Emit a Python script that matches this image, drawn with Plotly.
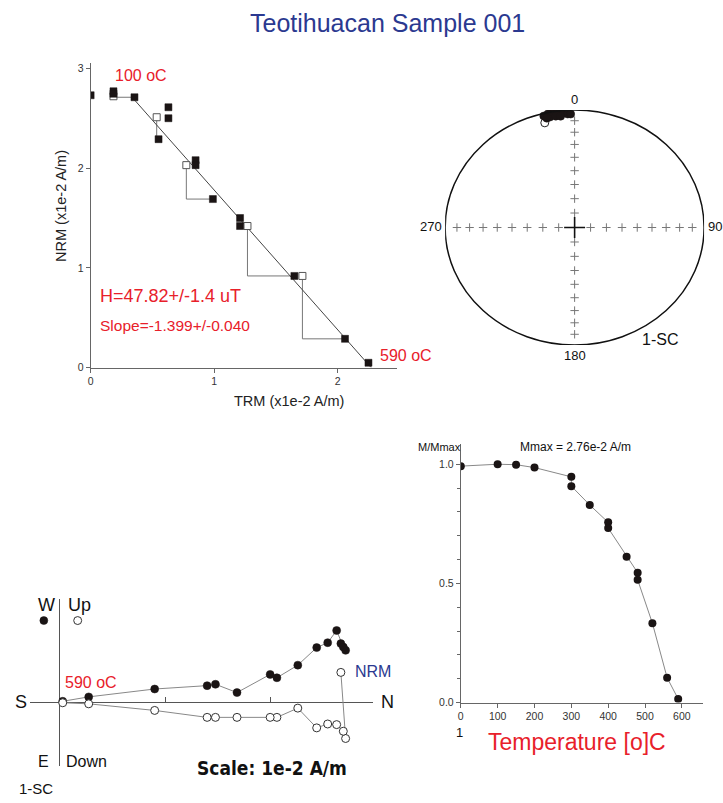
import numpy as np
import plotly.graph_objects as go

W, H = 723, 803
FONT = "Arial, Liberation Sans, Helvetica, sans-serif"

# ---------------- Arai plot data (x1e-2 A/m) ----------------
arai_trm = [0.0, 0.185, 0.185, 0.355, 0.63, 0.63, 0.55, 0.85, 0.85, 0.99, 1.21, 1.21, 1.65, 2.06, 2.25]
arai_nrm = [2.73, 2.77, 2.745, 2.71, 2.61, 2.50, 2.29, 2.08, 2.03, 1.69, 1.50, 1.42, 0.92, 0.29, 0.05]
check_trm = [0.185, 0.535, 0.775, 1.27, 1.715]
check_nrm = [2.72, 2.51, 2.03, 1.42, 0.92]
check_target = [3, 6, 9, 12, 13]          # index of the step each check links to
fit_slope = -1.399
fit_intercept = 3.18
fit_trm_range = [0.33, 2.27]

# ---------------- Equal-area (stereonet) data ----------------
stereo_dec = [345.9, 347.9, 349.7, 351.1, 352.5, 353.7, 355.0, 356.8, 358.2, 348.5, 351.3, 353.5, 347.0]
stereo_inc = [2.4, 1.4, 1.0, 0.5, 0.0, 1.3, 2.4, 3.7, 3.8, 4.6, 4.6, 5.2, 5.0]
stereo_open_dec = [345.5]
stereo_open_inc = [-8.8]
grid_incs = [80, 70, 60, 50, 40, 30, 20, 10]

# ---------------- Zijderveld data (x1e-2 A/m) ----------------
zij_north = [2.663, 2.708, 2.686, 2.623, 2.538, 2.434, 2.255, 2.057, 1.993, 1.679, 1.475, 1.396, 0.899, 0.274, 0.028]
zij_east = [-0.557, -0.493, -0.525, -0.682, -0.566, -0.519, -0.352, -0.232, -0.264, -0.091, -0.170, -0.157, -0.125, -0.050, -0.008]
zij_down = [-0.283, 0.346, 0.277, 0.214, 0.208, 0.245, 0.057, 0.145, 0.145, 0.145, 0.145, 0.145, 0.079, 0.016, 0.006]

# ---------------- Demagnetisation curve ----------------
demag_temp = [0, 100, 150, 200, 300, 300, 350, 400, 400, 450, 480, 480, 520, 560, 590]
demag_mmax = [0.992, 1.0, 0.998, 0.986, 0.947, 0.908, 0.829, 0.756, 0.732, 0.612, 0.545, 0.515, 0.333, 0.104, 0.015]


def px(x):
    return x / W


def py(y):
    return 1 - y / H


fig = go.Figure()

# ---- Arai ----
for ct, cn, ti in zip(check_trm, check_nrm, check_target):
    fig.add_trace(go.Scatter(x=[ct, ct, arai_trm[ti]], y=[cn, arai_nrm[ti], arai_nrm[ti]],
                             mode="lines", line=dict(color="#777", width=1),
                             xaxis="x", yaxis="y", showlegend=False, hoverinfo="skip"))
fx = np.array(fit_trm_range)
fig.add_trace(go.Scatter(x=fx, y=fit_intercept + fit_slope * fx, mode="lines",
                         line=dict(color="#444", width=1), xaxis="x", yaxis="y", showlegend=False))
fig.add_trace(go.Scatter(x=check_trm, y=check_nrm, mode="markers",
                         marker=dict(symbol="square", size=7, color="white", line=dict(color="#555", width=1)),
                         xaxis="x", yaxis="y", showlegend=False))
fig.add_trace(go.Scatter(x=arai_trm, y=arai_nrm, mode="markers",
                         marker=dict(symbol="square", size=7, color="#1a1414", line=dict(color="#1a1414", width=0.5)),
                         xaxis="x", yaxis="y", showlegend=False))

# ---- Stereonet ----
def eqarea(dec, inc):
    dec = np.radians(np.array(dec, dtype=float))
    inc = np.abs(np.array(inc, dtype=float))
    r = np.sqrt(2) * np.sin(np.radians(90 - inc) / 2)
    return r * np.sin(dec), r * np.cos(dec)

gr = eqarea([0] * len(grid_incs), grid_incs)[1]
gx = list(gr) + list(-gr) + [0] * (2 * len(gr))
gy = [0] * (2 * len(gr)) + list(gr) + list(-gr)
fig.add_trace(go.Scatter(x=gx, y=gy, mode="markers",
                         marker=dict(symbol="cross-thin", size=6, line=dict(color="#777", width=1)),
                         xaxis="x2", yaxis="y2", showlegend=False, hoverinfo="skip"))
fig.add_trace(go.Scatter(x=[0], y=[0], mode="markers",
                         marker=dict(symbol="cross-thin", size=15, line=dict(color="#111", width=1.6)),
                         xaxis="x2", yaxis="y2", showlegend=False, hoverinfo="skip"))
sx, sy = eqarea(stereo_dec, stereo_inc)
ox, oy = eqarea(stereo_open_dec, stereo_open_inc)
fig.add_trace(go.Scatter(x=ox, y=oy, mode="markers",
                         marker=dict(symbol="circle", size=8, color="white", line=dict(color="#222", width=1)),
                         xaxis="x2", yaxis="y2", showlegend=False))
fig.add_trace(go.Scatter(x=sx, y=sy, mode="markers",
                         marker=dict(symbol="circle", size=8, color="#1a1414", line=dict(color="#1a1414", width=0.5)),
                         xaxis="x2", yaxis="y2", showlegend=False))

# ---- Zijderveld ----
zn = np.array(zij_north)
zw = -np.array(zij_east)
zu = -np.array(zij_down)
fig.add_trace(go.Scatter(x=zn, y=zw, mode="lines", line=dict(color="#888", width=1),
                         xaxis="x3", yaxis="y3", showlegend=False, hoverinfo="skip"))
fig.add_trace(go.Scatter(x=zn, y=zu, mode="lines", line=dict(color="#888", width=1),
                         xaxis="x3", yaxis="y3", showlegend=False, hoverinfo="skip"))
fig.add_trace(go.Scatter(x=zn, y=zw, mode="markers",
                         marker=dict(symbol="circle", size=8, color="#1a1414", line=dict(color="#1a1414", width=0.5)),
                         xaxis="x3", yaxis="y3", showlegend=False))
fig.add_trace(go.Scatter(x=zn, y=zu, mode="markers",
                         marker=dict(symbol="circle", size=8, color="white", line=dict(color="#333", width=1)),
                         xaxis="x3", yaxis="y3", showlegend=False))

# ---- Demag ----
fig.add_trace(go.Scatter(x=demag_temp, y=demag_mmax, mode="lines+markers",
                         line=dict(color="#888", width=1),
                         marker=dict(symbol="circle", size=8, color="#1a1414"),
                         xaxis="x4", yaxis="y4", showlegend=False))

axis_common = dict(showgrid=False, zeroline=False, showline=True, linecolor="#666", linewidth=1,
                   ticks="outside", ticklen=4, tickcolor="#666",
                   tickfont=dict(family=FONT, size=10.5, color="#333"), fixedrange=True)

ORX, ORY, SC = 57, 707.3, 106.0   # zijderveld origin px and px per unit

fig.update_layout(
    width=W, height=H, margin=dict(l=0, r=0, t=0, b=0),
    paper_bgcolor="white", plot_bgcolor="rgba(0,0,0,0)", showlegend=False,
    xaxis=dict(domain=[px(88), px(396)], range=[0, (396 - 88) / 124.0], tickvals=[0, 1, 2],
               anchor="y", **axis_common),
    yaxis=dict(domain=[py(370), py(63)], range=[0, (370 - 63) / 100.7], tickvals=[0, 1, 2, 3],
               anchor="x", **axis_common),
    xaxis2=dict(domain=[px(444), px(704)], range=[-1, 1], visible=False, anchor="y2", fixedrange=True),
    yaxis2=dict(domain=[py(347), py(110)], range=[-1, 1], visible=False, anchor="x2", fixedrange=True),
    xaxis3=dict(domain=[px(27), px(372)], range=[(27 - ORX) / SC, (372 - ORX) / SC],
                showgrid=False, zeroline=True, zerolinecolor="#555", zerolinewidth=1,
                showline=False, showticklabels=False, ticks="inside", ticklen=5, tickcolor="#555",
                tickvals=[1, 2], anchor="free", position=py(ORY), fixedrange=True),
    yaxis3=dict(domain=[py(772), py(603)], range=[-(772 - ORY) / SC, (ORY - 603) / SC],
                showgrid=False, zeroline=True, zerolinecolor="#555", zerolinewidth=1,
                showline=False, showticklabels=False, ticks="", anchor="x3", fixedrange=True),
    xaxis4=dict(domain=[px(459.7), px(703)], range=[0, (703 - 459.7) / 0.37],
                tickvals=[0, 100, 200, 300, 400, 500, 600], anchor="y4", **axis_common),
    yaxis4=dict(domain=[py(707.7), py(447)], range=[0, (707.7 - 447) / 240.4],
                tickvals=[0, 0.5, 1.0], ticktext=["0.0", "0.5", "1.0"], anchor="x4",
                minor=dict(tick0=0, dtick=0.1, ticks="outside", ticklen=3, tickcolor="#666"),
                **axis_common),
)

fig.add_shape(type="circle", xref="x2", yref="y2", x0=-1, x1=1, y0=-1, y1=1,
              line=dict(color="#111", width=1.5))

# legend symbols of the Zijderveld plot
fig.add_shape(type="circle", xref="paper", yref="paper",
              x0=px(37), x1=px(45), y0=py(629), y1=py(621), fillcolor="#1a1414", line=dict(color="#1a1414", width=0.5))
fig.add_shape(type="circle", xref="paper", yref="paper",
              x0=px(71), x1=px(79), y0=py(629), y1=py(621), fillcolor="white", line=dict(color="#333", width=1))


def ann(text, x, y, size, color="#111", xanchor="center", family=FONT, angle=0):
    if xanchor == "left":
        x -= 3
    fig.add_annotation(text=text, x=px(x), y=py(y), xref="paper", yref="paper",
                       xanchor=xanchor, yanchor="middle", showarrow=False, textangle=angle,
                       font=dict(family=family, size=size, color=color))


RED = "#e8202a"
BLUE = "#2b3990"
ann("Teotihuacan Sample 001", 386, 22, 25, BLUE)

# Arai
ann("100 oC", 113, 75, 16, RED, "left")
ann("590 oC", 380, 358, 16, RED, "left")
ann("H=47.82+/-1.4 uT", 98, 298, 18, RED, "left")
ann("Slope=-1.399+/-0.040", 98, 327, 15.5, RED, "left")
ann("TRM (x1e-2 A/m)", 287, 404, 14.5, "#222")
ann("NRM (x1e-2 A/m)", 58, 207, 14.5, "#222", angle=-90)

# Stereonet
ann("0", 574, 99, 13)
ann("180", 574, 358, 13)
ann("270", 430, 227, 13)
ann("90", 715, 227, 13)
ann("1-SC", 660, 341, 16)

# Zijderveld
ann("W", 44, 609, 18)
ann("Up", 77, 609, 18)
ann("S", 18, 707, 18)
ann("N", 386, 707, 18)
ann("E", 41, 767, 16)
ann("Down", 84, 767, 16)
ann("1-SC", 33, 794, 15)
ann("590 oC", 63, 687, 16, RED, "left")
ann("NRM", 354, 676, 16, BLUE, "left")
ann("<b>Scale: 1e-2 A/m</b>", 270, 774, 19, "#111", family="Liberation Sans Narrow, DejaVu Sans Condensed, Arial Narrow, sans-serif")

# Demag
ann("M/Mmax", 438, 450, 11)
ann("Mmax = 2.76e-2 A/m", 520, 450, 12, "#111", "left")
ann("1", 458, 738, 13)
ann("Temperature [o]C", 576, 748, 23, RED)

fig.write_html("out.html")
